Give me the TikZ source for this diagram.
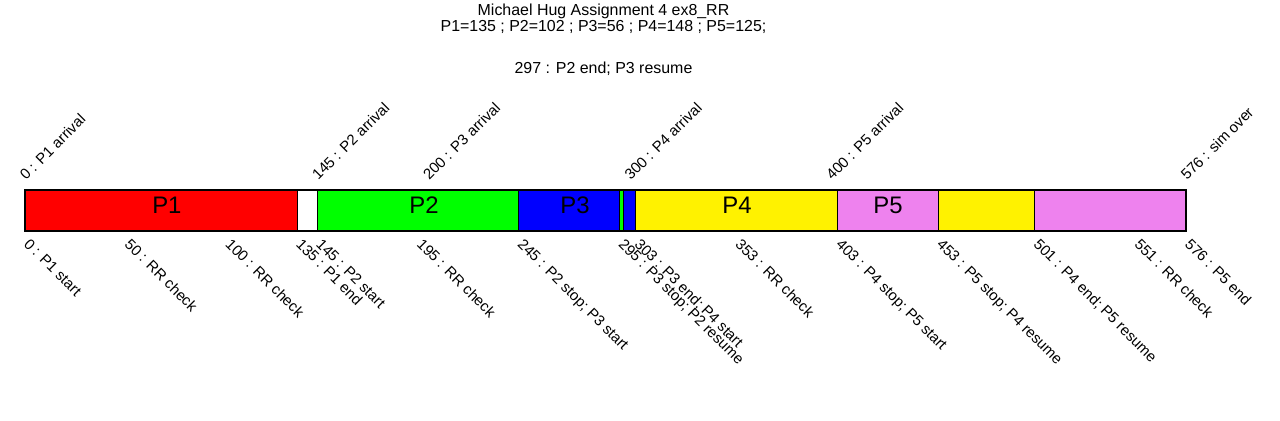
\documentclass[tikz,border=0pt]{standalone}
\usepackage{fontspec}
\setmainfont{Liberation Sans}
\definecolor{pviolet}{RGB}{238,130,238}

\begin{document}
\begin{tikzpicture}[x=1bp, y=-1bp,
      seg/.style={draw=black, line width=0.8bp},
      ev/.style={inner sep=0pt, anchor=base west, xshift=-2bp, rotate=-45, font=\fontsize{15}{16}\selectfont},
      arr/.style={inner sep=0pt, anchor=base west, xshift=1bp, rotate=45, font=\fontsize{15}{16}\selectfont},
      pname/.style={inner sep=0pt, anchor=base, font=\fontsize{24}{24}\selectfont},
      ttl/.style={inner sep=0pt, anchor=base, font=\fontsize{16}{17}\selectfont},
    ]
      \useasboundingbox (0,0) rectangle (1280,420);
      \node[ttl] (t1) at (603.5,15) {Michael Hug Assignment 4 ex8\_RR};
      \node[ttl] (t2) at (603.5,31) {P1=135 ; P2=102 ; P3=56 ; P4=148 ; P5=125;};
      \node[ttl] (t3) at (603.5,73) {297 : P2 end; P3 resume};
      \begin{scope}[xshift=25bp, x=2.015625bp]
      % time line
      \draw[seg, fill=red]     (0,190)   rectangle (135,231);
      \draw[seg, fill=white]   (135,190) rectangle (145,231);
      \draw[seg, fill=green]   (145,190) rectangle (245,231);
      \draw[seg, fill=blue]    (245,190) rectangle (295,231);
      \draw[seg, fill=green]   (295,190) rectangle (297,231);
      \draw[seg, fill=blue]    (297,190) rectangle (303,231);
      \draw[seg, fill=yellow]  (303,190) rectangle (403,231);
      \draw[seg, fill=pviolet] (403,190) rectangle (453,231);
      \draw[seg, fill=yellow]  (453,190) rectangle (501,231);
      \draw[seg, fill=pviolet] (501,190) rectangle (576,231);
      \draw[line width=1.6bp] (0,190) rectangle (576,231);
      \node[pname] (p1) at (70.4,213)  {P1};
      \node[pname] (p2) at (198,213)   {P2};
      \node[pname] (p3) at (272.9,213) {P3};
      \node[pname] (p4) at (353.2,213) {P4};
      \node[pname] (p5) at (428.2,213) {P5};
      % arrivals
      \node[arr] (a0)   at (0,181)   {0 : P1 arrival};
      \node[arr] (a145) at (145,181) {145 : P2 arrival};
      \node[arr] (a200) at (200,181) {200 : P3 arrival};
      \node[arr] (a300) at (300,181) {300 : P4 arrival};
      \node[arr] (a400) at (400,181) {400 : P5 arrival};
      \node[arr] (a576) at (576,181) {576 : sim over};
      % events
      \node[ev] (e0)   at (0,245)   {0 : P1 start};
      \node[ev] (e50)  at (50,245)  {50 : RR check};
      \node[ev] (e100) at (100,245) {100 : RR check};
      \node[ev] (e135) at (135,245) {135 : P1 end};
      \node[ev] (e145) at (145,245) {145 : P2 start};
      \node[ev] (e195) at (195,245) {195 : RR check};
      \node[ev] (e245) at (245,245) {245 : P2 stop; P3 start};
      \node[ev] (e295) at (295,245) {295 : P3 stop; P2 resume};
      \node[ev] (e303) at (303,245) {303 : P3 end; P4 start};
      \node[ev] (e353) at (353,245) {353 : RR check};
      \node[ev] (e403) at (403,245) {403 : P4 stop; P5 start};
      \node[ev] (e453) at (453,245) {453 : P5 stop; P4 resume};
      \node[ev] (e501) at (501,245) {501 : P4 end; P5 resume};
      \node[ev] (e551) at (551,245) {551 : RR check};
      \node[ev] (e576) at (576,245) {576 : P5 end};
      \end{scope}
    \end{tikzpicture}
\end{document}
